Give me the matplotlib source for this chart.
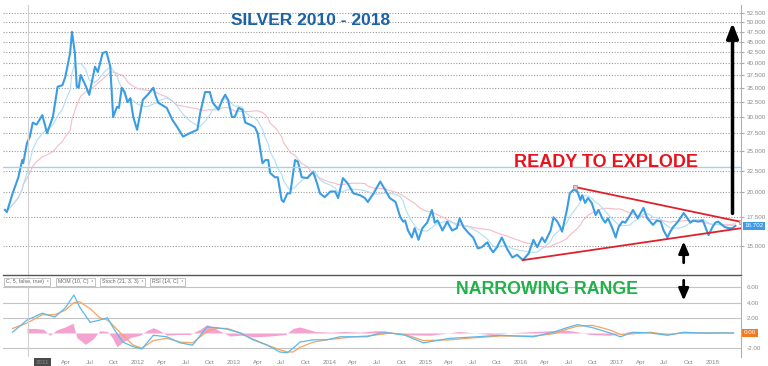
import matplotlib.pyplot as plt
import matplotlib.ticker as mticker
import numpy as np
import pandas as pd

plt.rcParams['font.family'] = ['Liberation Sans', 'DejaVu Sans']

# silver close (USD/oz), dates as decimal years
price_dates = [2010.61, 2010.63, 2010.69, 2010.75, 2010.79, 2010.80, 2010.84, 2010.87, 2010.90, 2010.94,
               2011.00, 2011.05, 2011.11, 2011.16, 2011.21, 2011.24, 2011.29, 2011.31, 2011.34, 2011.36,
               2011.38, 2011.40, 2011.45, 2011.49, 2011.55, 2011.58, 2011.63, 2011.67, 2011.71, 2011.74,
               2011.78, 2011.80, 2011.83, 2011.86, 2011.89, 2011.92, 2011.95, 2011.99, 2012.05, 2012.10,
               2012.16, 2012.18, 2012.21, 2012.30, 2012.36, 2012.41, 2012.47, 2012.54, 2012.62, 2012.65,
               2012.70, 2012.75, 2012.78, 2012.84, 2012.88, 2012.91, 2012.94, 2012.98, 2013.01, 2013.05,
               2013.09, 2013.12, 2013.17, 2013.22, 2013.25, 2013.30, 2013.33, 2013.36, 2013.38, 2013.43,
               2013.46, 2013.50, 2013.52, 2013.56, 2013.59, 2013.64, 2013.67, 2013.71, 2013.77, 2013.80,
               2013.83, 2013.87, 2013.90, 2013.95, 2014.01, 2014.06, 2014.09, 2014.14, 2014.19, 2014.25,
               2014.32, 2014.37, 2014.40, 2014.46, 2014.53, 2014.58, 2014.63, 2014.69, 2014.74, 2014.77,
               2014.79, 2014.82, 2014.86, 2014.89, 2014.93, 2014.97, 2015.02, 2015.07, 2015.10, 2015.13,
               2015.18, 2015.23, 2015.28, 2015.33, 2015.36, 2015.40, 2015.45, 2015.50, 2015.55, 2015.59,
               2015.65, 2015.68, 2015.71, 2015.75, 2015.80, 2015.86, 2015.91, 2015.96, 2016.02, 2016.08,
               2016.13, 2016.17, 2016.22, 2016.25, 2016.31, 2016.34, 2016.38, 2016.41, 2016.43, 2016.48,
               2016.51, 2016.55, 2016.59, 2016.62, 2016.64, 2016.67, 2016.70, 2016.74, 2016.78, 2016.81,
               2016.85, 2016.88, 2016.91, 2016.95, 2016.99, 2017.02, 2017.06, 2017.09, 2017.14, 2017.17,
               2017.22, 2017.25, 2017.28, 2017.32, 2017.35, 2017.38, 2017.42, 2017.46, 2017.49, 2017.53,
               2017.56, 2017.59, 2017.64, 2017.70, 2017.74, 2017.77, 2017.80, 2017.85, 2017.90, 2017.96,
               2018.00, 2018.03, 2018.06, 2018.10, 2018.13, 2018.17, 2018.21, 2018.24]
price = [18.2, 18.0, 19.9, 21.7, 23.8, 23.4, 26.1, 27.0, 29.1, 28.8,
         30.3, 27.5, 30.0, 35.3, 35.6, 37.2, 42.3, 47.4, 42.3, 35.3,
         35.1, 37.6, 35.6, 33.8, 39.3, 38.2, 42.3, 42.6, 39.3, 30.0,
         31.7, 31.5, 35.1, 34.3, 32.5, 33.2, 30.0, 28.0, 32.9, 33.8,
         35.1, 33.8, 32.4, 31.5, 29.5, 28.4, 27.0, 27.5, 28.0, 30.7,
         34.3, 34.3, 32.4, 31.2, 32.9, 33.8, 32.9, 30.0, 30.0, 31.5,
         31.2, 29.1, 28.8, 28.4, 27.5, 23.4, 23.8, 23.8, 22.2, 21.7,
         21.7, 19.2, 19.0, 19.9, 19.9, 23.8, 23.6, 21.7, 21.6, 22.0,
         22.3, 21.0, 19.9, 19.5, 20.1, 20.1, 19.4, 21.6, 21.0, 19.9,
         19.7, 19.4, 19.0, 19.9, 21.2, 20.3, 19.4, 19.0, 17.5, 17.1,
         17.2, 16.3, 15.7, 16.5, 15.5, 16.5, 17.0, 18.2, 17.0, 17.2,
         16.3, 17.1, 16.3, 16.5, 17.4, 16.6, 16.1, 15.7, 14.8, 14.9,
         15.3, 14.8, 14.5, 14.9, 15.7, 14.7, 14.1, 14.3, 13.9, 14.4,
         15.5, 14.9, 15.7, 15.3, 16.3, 17.5, 17.1, 16.6, 16.2, 18.2,
         19.9, 20.3, 20.1, 19.2, 19.7, 18.9, 19.4, 18.9, 17.7, 18.2,
         17.4, 17.0, 17.4, 16.6, 15.7, 16.6, 17.1, 17.0, 17.7, 18.2,
         17.4, 17.9, 18.4, 17.4, 17.1, 16.8, 17.2, 17.1, 16.3, 15.7,
         16.2, 16.6, 17.1, 17.9, 17.4, 17.0, 17.2, 17.1, 17.2, 15.9,
         16.6, 17.0, 17.1, 16.8, 16.6, 16.5, 16.5, 16.7]
last_price = 16.702

# triangle (trend lines)
upper_line_dates = [2016.56, 2018.30]
upper_line_vals = [20.6, 17.07]
lower_line_dates = [2016.02, 2018.30]
lower_line_vals = [13.9, 16.5]
resistance_level = 22.9

# MACD panel
macd_dates = [2010.69, 2010.84, 2011.00, 2011.13, 2011.24, 2011.33, 2011.39, 2011.50, 2011.60, 2011.68,
              2011.74, 2011.84, 2011.95, 2012.04, 2012.16, 2012.30, 2012.44, 2012.57, 2012.72, 2012.82,
              2012.93, 2013.07, 2013.20, 2013.35, 2013.48, 2013.56, 2013.62, 2013.69, 2013.83, 2013.97,
              2014.11, 2014.25, 2014.39, 2014.53, 2014.63, 2014.79, 2014.98, 2015.26, 2015.54, 2015.78,
              2016.13, 2016.34, 2016.48, 2016.59, 2016.75, 2016.93, 2017.04, 2017.17, 2017.35, 2017.53,
              2017.70, 2017.87, 2018.22]
macd_line = [0.1, 1.7, 2.6, 2.1, 3.3, 5.0, 3.4, 1.4, 1.7, 2.0,
             0.7, -1.2, -1.8, -2.1, -0.3, -0.5, -1.3, -1.6, 0.8, 0.7,
             0.5, 0.0, -0.9, -1.6, -2.5, -2.6, -2.0, -1.2, -0.9, -0.9,
             -0.5, -0.5, -0.5, 0.0, 0.0, -0.3, -1.3, -0.7, -0.5, -0.3,
             -0.5, 0.1, 0.7, 1.1, 0.7, 0.0, -0.5, 0.1, 0.0, -0.3,
             0.1, 0.0, 0.0]
signal_line = [0.6, 1.3, 2.4, 2.4, 3.0, 4.0, 4.1, 3.2, 2.0, 1.7,
               1.0, -0.3, -1.6, -2.0, -1.0, -0.7, -1.2, -1.3, 0.2, 0.6,
               0.6, 0.0, -0.8, -1.6, -2.2, -2.5, -2.5, -1.9, -1.2, -0.9,
               -0.7, -0.5, -0.4, -0.2, 0.0, -0.2, -1.0, -0.9, -0.6, -0.4,
               -0.4, -0.1, 0.5, 0.9, 1.0, 0.4, -0.2, -0.1, 0.1, -0.2,
               0.0, 0.0, 0.0]
hist_dates = [2010.84, 2010.92, 2011.01, 2011.08, 2011.15, 2011.24, 2011.32, 2011.36, 2011.45, 2011.53,
              2011.60, 2011.68, 2011.73, 2011.78, 2011.84, 2011.92, 2012.02, 2012.09, 2012.16, 2012.23,
              2012.30, 2012.39, 2012.54, 2012.65, 2012.72, 2012.78, 2012.85, 2012.96, 2013.07, 2013.22,
              2013.38, 2013.54, 2013.62, 2013.69, 2013.77, 2013.85, 2014.01, 2014.16, 2014.32, 2014.48,
              2014.58, 2014.74, 2015.05, 2015.36, 2015.68, 2015.99, 2016.31, 2016.46, 2016.57, 2016.72,
              2016.93, 2017.14, 2017.45, 2017.77, 2018.24]
hist_vals = [0.6, 0.6, 0.5, -0.3, 0.4, 0.8, 1.3, -0.6, -1.5, -0.8,
             0.3, 0.2, -0.6, -1.8, -1.2, -0.6, -0.3, 0.3, 0.7, 0.3,
             -0.3, -0.2, -0.2, 0.5, 1.1, 0.8, 0.3, -0.4, -0.3, -0.5,
             -0.4, -0.2, 0.6, 0.8, 0.5, 0.2, 0.1, 0.2, 0.1, 0.3,
             0.3, -0.2, -0.3, 0.2, -0.2, 0.1, 0.3, 0.4, 0.2, -0.2,
             -0.3, 0.2, -0.1, 0.1, 0.0]

price_ticks = [15.0, 17.5, 20.0, 22.5, 25.0, 27.5, 30.0, 32.5, 35.0, 37.5,
               40.0, 42.5, 45.0, 47.5, 50.0, 52.5]
macd_ticks = [-2, 2, 4, 6]
years = [2011, 2012, 2013, 2014, 2015, 2016, 2017, 2018]

grey = '#8a8a8a'

fig = plt.figure(figsize=(7.68, 3.66), dpi=100)
ax = fig.add_axes([0.004, 0.2486, 0.961, 0.738])
ax2 = fig.add_axes([0.004, 0.0246, 0.961, 0.2186], sharex=ax)

# moving averages of the close
s = pd.Series(price)
ma_fast = s.rolling(6, min_periods=1).mean()
ma_slow = s.rolling(17, min_periods=1).mean()

ax.set_yscale('log')
ax.plot(price_dates, ma_slow, color='#f5bcc6', lw=0.8)
ax.plot(price_dates, ma_fast, color='#b0def5', lw=0.8)
ax.plot(price_dates, price, color='#3a9de3', lw=1.5)
ax.axhline(resistance_level, color='#9dd2f0', lw=1)
ax.axvline(2010.85, color='#d0d0d0', lw=0.8)

ax.plot(upper_line_dates, upper_line_vals, color='#e0202c', lw=1.3)
ax.plot(lower_line_dates, lower_line_vals, color='#e0202c', lw=1.3)
ax.plot([upper_line_dates[0], upper_line_dates[1]], [upper_line_vals[0], upper_line_vals[1]],
        ls='none', marker='s', ms=3, mfc='#e8c4c4', mec='#b08080', mew=0.5)

ax.set_xlim(2010.59, 2018.30)
ax.set_ylim(12.83, 54.8)
ax.yaxis.tick_right()
ax.yaxis.set_minor_locator(mticker.NullLocator())
ax.set_yticks(price_ticks)
ax.set_yticklabels([f'{v:.3f}' for v in price_ticks])
ax.tick_params(axis='y', labelsize=4.5, labelcolor=grey, length=2, color='#aaaaaa', pad=2)
ax.tick_params(axis='x', bottom=False, labelbottom=False)
ax.grid(axis='y', ls=(0, (1, 1.5)), color='#9a9a9a', lw=0.8)
for side in ['left', 'top']:
    ax.spines[side].set_visible(False)
ax.spines['right'].set_color('#b0b0b0')
ax.spines['bottom'].set_color('#555555')
ax.spines['bottom'].set_linewidth(1.0)

ax.text(1.004, last_price, f'{last_price:.3f}', transform=ax.get_yaxis_transform(),
        fontsize=4.5, color='white', va='center', ha='left',
        bbox=dict(boxstyle='square,pad=0.25', fc='#3d9be9', ec='none'))

# arrows
ax.annotate('', xy=(2018.21, 50.5), xytext=(2018.21, 17.6),
            arrowprops=dict(arrowstyle='-|>,head_width=0.35,head_length=0.9', color='black', lw=2.5))
ax.annotate('', xy=(2017.70, 15.6), xytext=(2017.70, 13.5),
            arrowprops=dict(arrowstyle='-|>,head_width=0.3,head_length=0.7', color='black', lw=2))

# MACD
ax2.fill_between(hist_dates, 0, hist_vals, color='#f28cc6', alpha=0.8, lw=0)
ax2.plot(macd_dates, signal_line, color='#f5a45e', lw=0.9)
ax2.plot(macd_dates, macd_line, color='#5bb8ea', lw=0.9)
ax2.axvline(2010.85, color='#d0d0d0', lw=0.8)
ax2.set_ylim(-3.16, 7.37)
ax2.yaxis.tick_right()
ax2.set_yticks(macd_ticks)
ax2.set_yticklabels([f'{v:.2f}' for v in macd_ticks])
ax2.tick_params(axis='y', labelsize=4.5, labelcolor=grey, length=0, pad=4)
ax2.grid(axis='y', color='#c4c4c4', lw=0.8)
for side in ['left', 'top', 'bottom']:
    ax2.spines[side].set_visible(False)
ax2.spines['right'].set_color('#b0b0b0')
ax2.text(1.004, 0, '0.00', transform=ax2.get_yaxis_transform(), fontsize=4.5,
         color='white', va='center', ha='left',
         bbox=dict(boxstyle='square,pad=0.3', fc='#f07c22', ec='none'))
ax2.annotate('', xy=(2017.70, 3.9), xytext=(2017.70, 7.3),
             arrowprops=dict(arrowstyle='-|>,head_width=0.3,head_length=0.7', color='black', lw=2))

# quarterly x ticks
xt, xl = [], []
for y in years:
    xt.append(y)
    xl.append(str(y))
    if y < 2018:
        for off, m in [(0.247, 'Apr'), (0.496, 'Jul'), (0.748, 'Oct')]:
            xt.append(y + off)
            xl.append(m)
ax2.set_xticks(xt)
ax2.set_xticklabels(xl)
ax2.tick_params(axis='x', labelsize=4.5, labelcolor=grey, length=0, pad=2)
ax2.get_xticklabels()[0].set_bbox(dict(boxstyle='square,pad=0.3', fc='#4a4a4a', ec='none'))

# indicator tabs
tabs = ['C, 5, false, true)', 'MOM (10, C)', 'Stoch (21, 3, 3)', 'RSI (14, C)']
tab_x = [6, 58, 102, 152]
for t, x in zip(tabs, tab_x):
    fig.text(x / 768, 1 - 282 / 366, t + '  \u02e3', fontsize=3.8, color='#666666', va='center',
             bbox=dict(boxstyle='square,pad=0.35', fc='white', ec='#aaaaaa', lw=0.5))

# annotations
fig.text(0.405, 0.945, 'SILVER 2010 - 2018', fontsize=12.5, fontweight='bold',
         color='#1a62a8', ha='center', va='center')
fig.text(0.789, 0.557, 'READY TO EXPLODE', fontsize=13, fontweight='bold',
         color='#e8141c', ha='center', va='center')
fig.text(0.712, 0.208, 'NARROWING RANGE', fontsize=12.8, fontweight='bold',
         color='#22b04a', ha='center', va='center')

fig.savefig('out.png', dpi=100)
